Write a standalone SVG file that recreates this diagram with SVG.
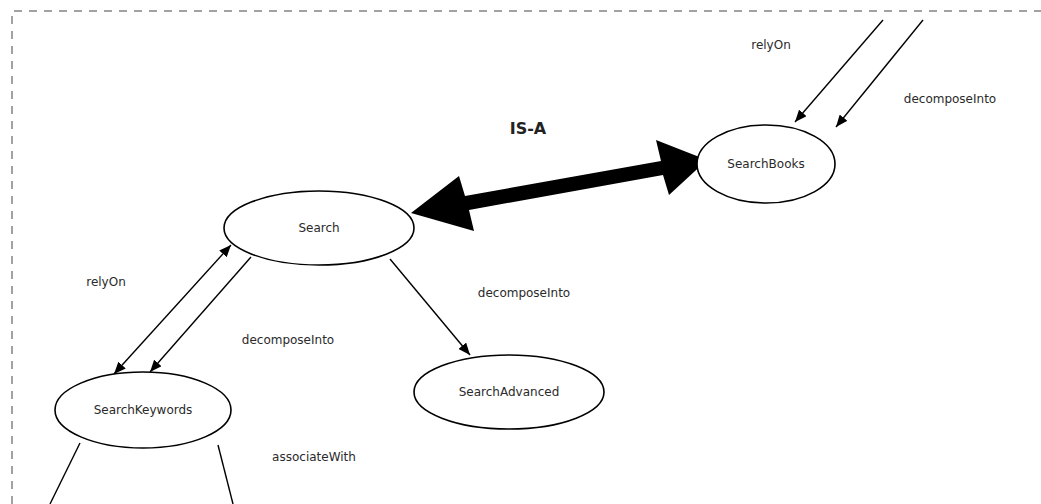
<svg xmlns="http://www.w3.org/2000/svg" width="1041" height="504" viewBox="0 0 1041 504">
  <style>
    .frame { fill: none; stroke: #444; stroke-width: 1; stroke-dasharray: 8 7; }
    .node ellipse { fill: #fff; stroke: #000; stroke-width: 1.6; }
    .node text, .lbl { font-family: "DejaVu Sans", sans-serif; font-size: 12px; fill: #2a2a2a; text-anchor: middle; }
    .edge { fill: none; stroke: #000; stroke-width: 1.4; }
    .isa { font-family: "DejaVu Sans", sans-serif; font-size: 16px; font-weight: bold; fill: #222; text-anchor: middle; }
  </style>
  <defs>
    <marker id="head" viewBox="0 0 12 10" refX="12" refY="5" markerWidth="12" markerHeight="10" markerUnits="userSpaceOnUse" orient="auto-start-reverse">
      <path d="M0,0 L12,5 L0,10 z" fill="#000"/>
    </marker>
  </defs>
  <rect width="1041" height="504" fill="#fff"/>
  <!-- dashed frame (top and left edges visible) -->
  <path class="frame" d="M12,504 L12,11 L1041,11"/>

  <g id="connectors">
    <!-- incoming to SearchBooks -->
    <line class="edge" x1="883" y1="20" x2="795" y2="122" marker-end="url(#head)"/>
    <line class="edge" x1="923" y1="20" x2="836" y2="127" marker-end="url(#head)"/>
    <!-- Search <-> SearchKeywords -->
    <line class="edge" x1="231" y1="245" x2="114" y2="374" marker-start="url(#head)" marker-end="url(#head)"/>
    <line class="edge" x1="251" y1="257" x2="150" y2="372" marker-end="url(#head)"/>
    <!-- Search -> SearchAdvanced -->
    <line class="edge" x1="390" y1="259" x2="470" y2="355" marker-end="url(#head)"/>
    <!-- SearchKeywords outgoing -->
    <line class="edge" x1="80" y1="443" x2="50" y2="504"/>
    <line class="edge" x1="218" y1="445" x2="233" y2="504"/>
    <!-- IS-A thick double arrow -->
    <polygon fill="#000" points="411,213 459,176 465,196 661,161 656,140 707,160 669,195 663,175 469,210 474,231"/>
    <text class="lbl" x="771" y="49">relyOn</text>
    <text class="lbl" x="950" y="103">decomposeInto</text>
    <text class="isa" x="528" y="134">IS-A</text>
    <text class="lbl" x="106" y="286">relyOn</text>
    <text class="lbl" x="288" y="344">decomposeInto</text>
    <text class="lbl" x="524" y="297">decomposeInto</text>
    <text class="lbl" x="314" y="461">associateWith</text>
  </g>

  <g id="searchbooks" class="node">
    <ellipse cx="766" cy="164" rx="69" ry="39"/>
    <text x="766" y="168">SearchBooks</text>
  </g>
  <g id="search" class="node">
    <ellipse cx="319" cy="228" rx="95" ry="37"/>
    <text x="319" y="232">Search</text>
  </g>
  <g id="searchkeywords" class="node">
    <ellipse cx="143" cy="410" rx="88" ry="38"/>
    <text x="143" y="414">SearchKeywords</text>
  </g>
  <g id="searchadvanced" class="node">
    <ellipse cx="509" cy="392" rx="95" ry="37"/>
    <text x="509" y="396">SearchAdvanced</text>
  </g>
</svg>
